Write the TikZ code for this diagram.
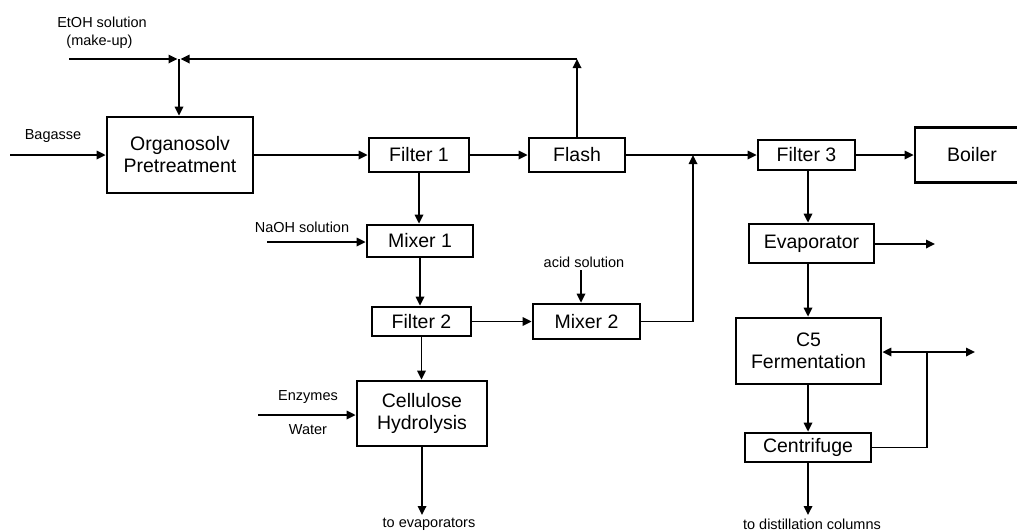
\documentclass[tikz,border=0pt]{standalone}
\usepackage{fontspec}
\setmainfont{Liberation Sans}
\usetikzlibrary{arrows.meta}
\begin{document}
\begin{tikzpicture}[x=1pt,y=-1pt,
  box/.style={draw,line width=2.8pt,inner sep=0pt,align=center,font=\fontsize{19.5}{22}\selectfont},
  flow/.style={line width=1.7pt,-{Triangle[length=9pt,width=8.5pt]}},
  plain/.style={line width=1.7pt},
  lbl/.style={inner sep=0pt,font=\fontsize{14.5}{16}\selectfont}]
\useasboundingbox (0,0) rectangle (1017,531);
\clip (0,0) rectangle (1017,531);
% boxes
\node[box,minimum width=146pt,minimum height=76pt] (org) at (180,155) {Organosolv\\Pretreatment};
\node[box,minimum width=100pt,minimum height=34pt] (f1) at (419,155) {Filter 1};
\node[box,minimum width=96pt,minimum height=34pt] (flash) at (577,155) {Flash};
\node[box,minimum width=97pt,minimum height=30pt] (f3) at (806.5,155) {Filter 3};
\node[box,minimum width=114pt,minimum height=55pt] (boiler) at (972,155) {Boiler};
\node[box,minimum width=106pt,minimum height=32pt] (m1) at (420,241) {Mixer 1};
\node[box,minimum width=99pt,minimum height=29pt] (f2) at (421.5,321.5) {Filter 2};
\node[box,minimum width=107pt,minimum height=35pt] (m2) at (586.5,321.5) {Mixer 2};
\node[box,minimum width=130pt,minimum height=65pt] (cell) at (422,413.5) {Cellulose\\Hydrolysis};
\node[box,minimum width=125pt,minimum height=39pt] (evap) at (811.5,243.5) {Evaporator};
\node[box,minimum width=145pt,minimum height=66pt] (c5) at (808.5,351) {C5\\Fermentation};
\node[box,minimum width=126pt,minimum height=29pt] (cent) at (808,447.5) {Centrifuge};
% labels
\node[lbl] (lbag) at (53,136) {Bagasse};
\node[lbl] (letoh) at (102,22) {EtOH solution};
\node[lbl] (lmake) at (99.5,42) {(make-up)};
\node[lbl] (lnaoh) at (302,227) {NaOH solution};
\node[lbl] (lacid) at (584,262) {acid solution};
\node[lbl] (lenz) at (308,397) {Enzymes};
\node[lbl] (lwat) at (308,430) {Water};
\node[lbl] (ltoev) at (429,524) {to evaporators};
\node[lbl] (ltodi) at (812,524) {to distillation columns};
% coordinates
\coordinate (bagin) at (10,155);
\coordinate (etohin) at (69,59);
\coordinate (j1) at (179,59);
\coordinate (ftop) at (577,59);
\coordinate (j2) at (693,155);
\coordinate (naohin) at (267,242);
\coordinate (acidin) at (581,270);
\coordinate (enzin) at (258,415);
\coordinate (hydout) at (422,515);
\coordinate (evout) at (935,244);
\coordinate (jc) at (927,352);
\coordinate (c5out) at (975,352);
\coordinate (centout) at (808,515);
% connectors
\draw[flow] (bagin) -- (org.west |- bagin);
\draw[flow] (etohin) -- ([xshift=-1.5pt]j1);
\draw[flow] (flash.north) -- (ftop);
\draw[flow] (ftop) -- ([xshift=1.5pt]j1);
\draw[flow] (j1) -- (org.north -| j1);
\draw[flow] (org.east) -- (f1.west);
\draw[flow] (f1.east) -- (flash.west);
\draw[flow] (flash.east) -- (f3.west);
\draw[flow] (f3.east) -- (boiler.west |- f3.east);
\draw[flow] (f1.south) -- (f1.south |- m1.north);
\draw[flow] (naohin) -- (m1.west |- naohin);
\draw[flow] (m1.south) -- (m1.south |- f2.north);
\draw[flow] (f2.east) -- (m2.west |- f2.east);
\draw[flow] (acidin) -- (acidin |- m2.north);
\draw[flow] (m2.east) -| (j2);
\draw[flow] (f2.south) -- (f2.south |- cell.north);
\draw[flow] (enzin) -- (cell.west |- enzin);
\draw[flow] (cell.south) -- (hydout);
\draw[flow] (f3.south -| 808,0) -- (808,0 |- evap.north);
\draw[flow] (evap.east |- evout) -- (evout);
\draw[flow] (evap.south -| 808,0) -- (808,0 |- c5.north);
\draw[flow] (c5.south -| 808,0) -- (808,0 |- cent.north);
\draw[flow] (cent.south) -- (centout);
\draw[plain] (cent.east) -| (jc);
\draw[flow] (jc) -- (c5.east |- jc);
\draw[flow] (jc) -- (c5out);
\end{tikzpicture}
\end{document}
